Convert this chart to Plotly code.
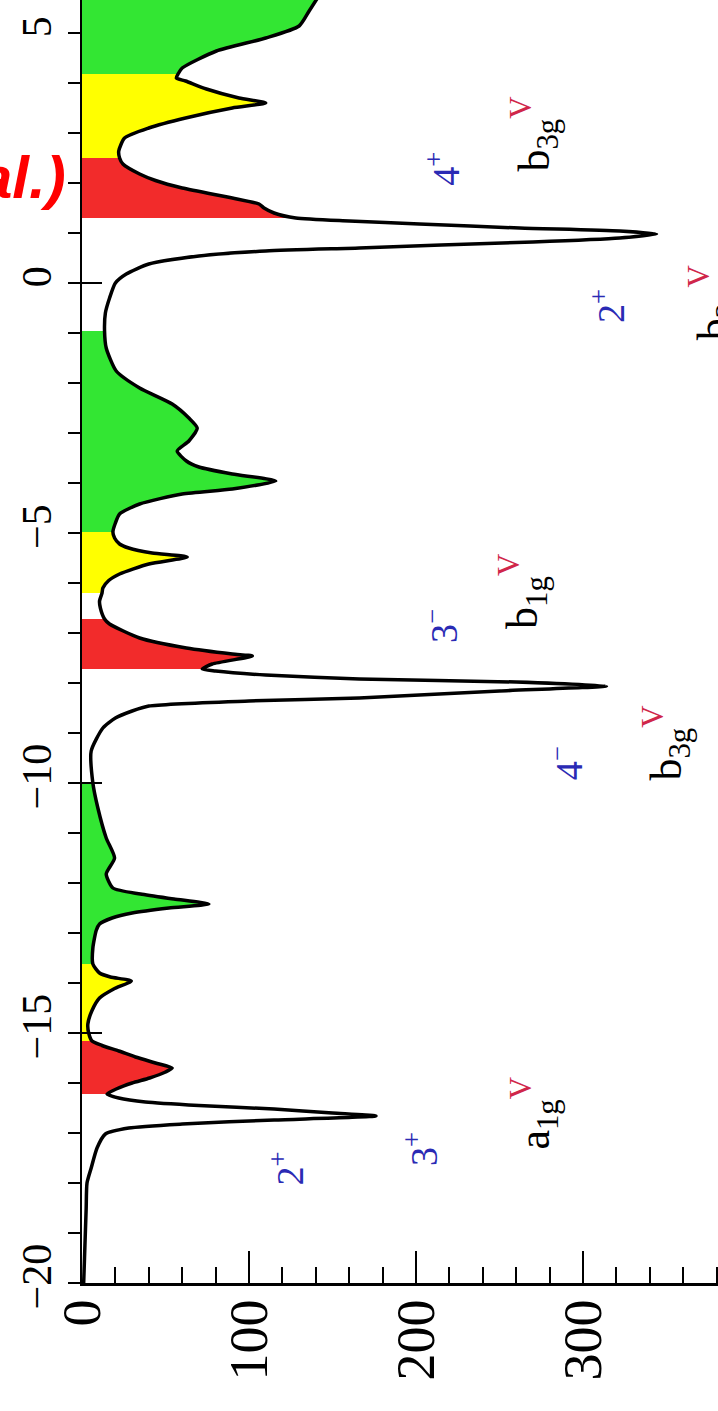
import plotly.graph_objects as go

# Spectrum: binding energy (eV) vs. intensity, drawn with energy on the vertical axis
energy = [
    -20.0, -19.5, -19.0, -18.5, -18.0, -17.7, -17.3, -17.02, -16.9, -16.82,
    -16.74, -16.66, -16.6, -16.52, -16.45, -16.38, -16.3, -16.22, -16.12, -16.0,
    -15.9, -15.78, -15.7, -15.6, -15.48, -15.36, -15.25, -15.16, -15.0, -14.82,
    -14.55, -14.3, -14.12, -13.96, -13.88, -13.8, -13.62, -13.3, -12.95, -12.82,
    -12.7, -12.6, -12.5, -12.42, -12.32, -12.22, -12.1, -11.82, -11.5, -11.1,
    -10.5, -10.0, -9.36, -8.9, -8.7, -8.56, -8.46, -8.36, -8.3, -8.16,
    -8.06, -7.98, -7.92, -7.84, -7.76, -7.72, -7.62, -7.46, -7.42, -7.3,
    -7.1, -6.82, -6.72, -6.5, -6.36, -6.2, -6.1, -5.95, -5.82, -5.62,
    -5.48, -5.4, -5.3, -5.22, -5.1, -4.98, -4.8, -4.62, -4.42, -4.22,
    -4.12, -3.96, -3.82, -3.68, -3.56, -3.36, -3.16, -2.9, -2.7, -2.42,
    -2.1, -1.76, -1.3, -0.96, -0.6, -0.3, 0.0, 0.18, 0.38, 0.54,
    0.64, 0.7, 0.76, 0.82, 0.9, 0.98, 1.04, 1.1, 1.18, 1.24,
    1.3, 1.4, 1.5, 1.58, 1.7, 1.9, 2.05, 2.18, 2.38, 2.5,
    2.64, 2.9, 3.1, 3.3, 3.5, 3.6, 3.7, 3.88, 4.04, 4.1,
    4.18, 4.3, 4.64, 4.9, 5.14, 5.44, 5.7,
]
intensity = [
    1.0, 1.5, 2.0, 2.5, 3.0, 5.5, 9.0, 14.0, 28.0, 60.0,
    115.0, 176.0, 150.0, 115.0, 70.0, 38.0, 22.0, 15.0, 20.5, 30.0,
    40.5, 50.0, 54.0, 44.0, 32.0, 22.0, 12.0, 6.0, 4.0, 3.5,
    6.0, 10.5, 19.0, 29.5, 17.0, 10.5, 6.5, 6.5, 8.5, 10.5,
    18.0, 30.0, 52.0, 76.0, 55.0, 35.0, 18.5, 14.5, 19.5, 14.5,
    9.5, 6.5, 5.5, 12.5, 20.0, 30.0, 40.0, 100.0, 166.0, 250.0,
    314.0, 260.0, 166.0, 110.0, 80.0, 72.0, 78.0, 102.0, 90.0, 62.5,
    34.5, 16.5, 13.5, 11.0, 10.5, 12.0, 12.5, 16.0, 22.5, 40.0,
    63.0, 42.0, 28.0, 22.5, 19.5, 18.5, 20.0, 22.5, 34.5, 60.0,
    90.0, 116.0, 90.0, 70.0, 62.5, 57.0, 64.0, 69.0, 64.0, 54.0,
    34.5, 20.5, 14.5, 13.5, 14.0, 16.5, 20.0, 26.5, 40.0, 70.0,
    110.0, 166.0, 215.0, 270.0, 322.0, 344.0, 322.0, 262.0, 202.0, 160.0,
    128.0, 115.0, 109.0, 106.0, 90.0, 60.0, 44.0, 34.5, 24.5, 22.5,
    22.0, 25.5, 40.0, 62.0, 90.0, 110.0, 94.0, 74.5, 62.0, 56.5,
    57.5, 60.0, 80.5, 110.0, 130.0, 136.0, 141.0,
]

# Shaded energy windows (lower edge, upper edge, colour)
band_lo = [-16.22, -15.16, -13.62, -7.72, -6.2, -4.98, 1.3, 2.5, 4.18]
band_hi = [-15.16, -13.62, -10.0, -6.72, -4.98, -0.96, 2.5, 4.18, 5.7]
band_color = ["#f22b2b", "#ffff00", "#33e633",
              "#f22b2b", "#ffff00", "#33e633",
              "#f22b2b", "#ffff00", "#33e633"]

# Peak annotations
V = "<span style='color:#d0264a'>V</span>"
label_text = [
    "a<sub>1g</sub><sup>" + V + "</sup>", "3<sup>+</sup>", "2<sup>+</sup>",
    "b<sub>3g</sub><sup>" + V + "</sup>", "4<sup>\u2212</sup>",
    "b<sub>1g</sub><sup>" + V + "</sup>", "3<sup>\u2212</sup>",
    "b<sub>3g</sub><sup>" + V + "</sup>", "4<sup>+</sup>",
    "b<sub>2g</sub><sup>" + V + "</sup>", "2<sup>+</sup>",
]
label_x = [271, 203, 123, 350, 290, 264, 215, 271, 216, 378, 315]
label_y = [-16.6, -17.32, -17.7, -9.2, -9.6, -6.16, -6.86, 2.98, 2.28, -0.4, -0.46]
label_color = ["black", "#2a2ab4", "#2a2ab4", "black", "#2a2ab4",
               "black", "#2a2ab4", "black", "#2a2ab4", "black", "#2a2ab4"]

x_ticks = [0, 100, 200, 300]
y_ticks = [-20, -15, -10, -5, 0, 5]
y_cross_ticks = [-20, -15, -10, 0]

fig = go.Figure()

for lo, hi, col in zip(band_lo, band_hi, band_color):
    xs = [i for e, i in zip(energy, intensity) if lo <= e <= hi]
    ys = [e for e in energy if lo <= e <= hi]
    fig.add_trace(go.Scatter(
        x=xs, y=ys, mode="lines", fill="tozerox", fillcolor=col,
        line=dict(width=0, shape="spline", smoothing=0.6),
        hoverinfo="skip", showlegend=False,
    ))

fig.add_trace(go.Scatter(
    x=intensity, y=energy, mode="lines",
    line=dict(color="black", width=3.5, shape="spline", smoothing=0.6),
    showlegend=False,
))

# carrier for the crossing major ticks on the energy axis
fig.add_trace(go.Scatter(x=[], y=[], yaxis="y2", showlegend=False))

serif = "Liberation Serif, Times New Roman, serif"

for t, xv, yv, c in zip(label_text, label_x, label_y, label_color):
    big = c == "black"
    fig.add_annotation(
        x=xv, y=yv, xref="x", yref="y", text=t, showarrow=False,
        textangle=-90, font=dict(family=serif, size=44 if big else 38, color=c),
    )

fig.add_annotation(
    x=-0.0225, y=0.862, xref="paper", yref="paper", xanchor="right",
    yanchor="middle", text="<b><i>al.)</i></b>", showarrow=False,
    font=dict(family="Liberation Sans, Arial, sans-serif", size=60, color="#ff0000"),
)

fig.update_layout(
    width=718, height=1411,
    margin=dict(l=82, r=0, t=0, b=128, autoexpand=False),
    paper_bgcolor="white", plot_bgcolor="white",
    xaxis=dict(
        range=[0, 380.8], tickvals=x_ticks, ticks="inside", ticklen=32,
        tickwidth=2, tickcolor="black", showline=True, linecolor="black",
        linewidth=3, showgrid=False, zeroline=False, tickangle=-90,
        tickfont=dict(family=serif, size=54, color="black"),
        minor=dict(dtick=20, ticks="inside", ticklen=16, tickwidth=2,
                   tickcolor="black", showgrid=False),
        automargin=False, ticklabelstandoff=-8,
    ),
    yaxis=dict(
        range=[-20, 5.66], tickvals=y_ticks, ticks="outside", ticklen=12,
        tickwidth=2, tickcolor="black", showline=True, linecolor="black",
        linewidth=2, showgrid=False, zeroline=False, tickangle=-90,
        tickfont=dict(family=serif, size=42, color="black"),
        minor=dict(dtick=1, ticks="outside", ticklen=12, tickwidth=2,
                   tickcolor="black", showgrid=False),
        automargin=False,
    ),
    yaxis2=dict(
        range=[-20, 5.66], overlaying="y", side="left", anchor="x",
        tickvals=y_cross_ticks, ticks="inside", ticklen=20, tickwidth=2,
        tickcolor="black", showticklabels=False, showline=False,
        showgrid=False, zeroline=False, automargin=False,
    ),
)

fig.write_html("out.html")
